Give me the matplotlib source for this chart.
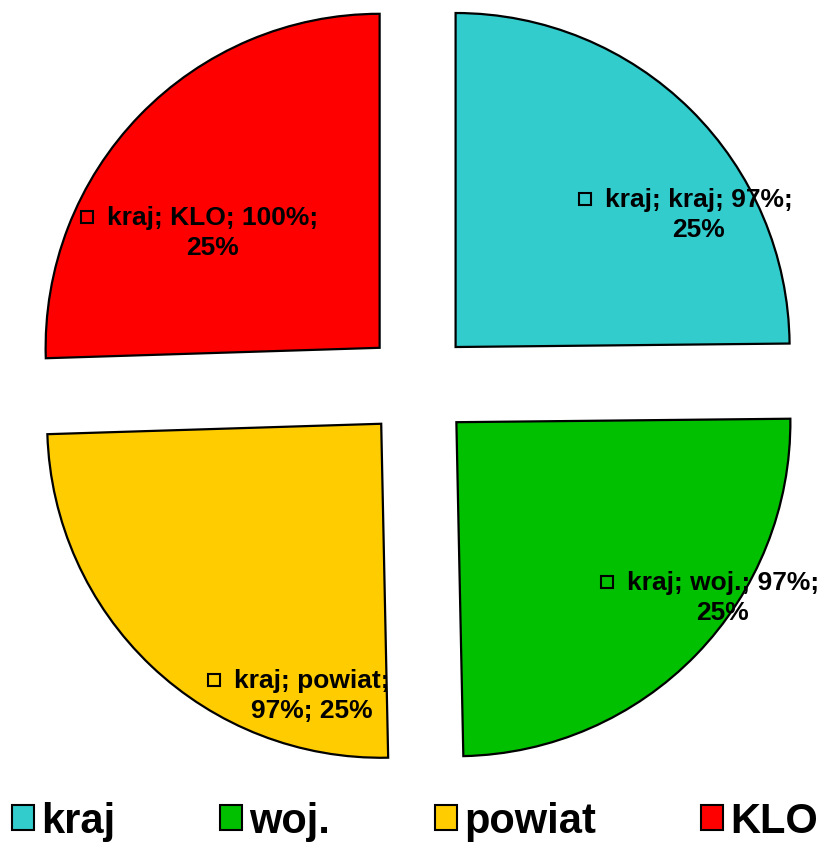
import matplotlib
matplotlib.use('Agg')
import matplotlib.pyplot as plt
from matplotlib.patches import Patch

plt.rcParams['font.family'] = ['Liberation Sans', 'DejaVu Sans']

# Data
series_name = 'kraj'
categories = ['kraj', 'woj.', 'powiat', 'KLO']
values = [97.4, 97.4, 97.4, 100]
value_labels = ['97%', '97%', '97%', '100%']
colors = ['#33CCCC', '#00C000', '#FFCC00', '#FF0000']
wrap_after = [3, 3, 2, 3]  # parts on first line of each data label

# label block centres (axes data units, pie radius = 1)
label_pos = [(0.841, 0.512), (0.913, -0.635), (-0.317, -0.928), (-0.614, 0.458)]

W, H = 826, 845
px = 334.0  # pixels per pie radius
cx, cy = 418, 386  # pie centre in pixels from top-left

fig = plt.figure(figsize=(W / 100, H / 100), dpi=100)
ax = fig.add_axes([0, 0, 1, 1])

wedges, _ = ax.pie(values, colors=colors, startangle=90, counterclock=False,
                   explode=[0.16] * 4, radius=1.0,
                   wedgeprops=dict(edgecolor='black', linewidth=1.6))
for w in wedges:
    w.set_zorder(1)

# pie() resets the limits, so set them afterwards
ax.set_aspect('auto')
ax.set_xlim(-cx / px, (W - cx) / px)
ax.set_ylim((cy - H) / px, cy / px)
ax.axis('off')

total = sum(values)
fig.canvas.draw()
renderer = fig.canvas.get_renderer()
for i, cat in enumerate(categories):
    pct = '%d%%' % round(values[i] / total * 100)
    parts = [series_name, cat, value_labels[i], pct]
    n = wrap_after[i]
    line1 = '; '.join(parts[:n]) + ';'
    line2 = '; '.join(parts[n:])
    x, y = label_pos[i]
    t = ax.text(x, y, line1 + '\n' + line2, ha='center', va='center',
                multialignment='center', fontsize=19, fontweight='bold',
                linespacing=1.35, zorder=5)
    tmp = ax.text(x, y, line1, ha='center', va='center', fontsize=19,
                  fontweight='bold')
    bb1 = tmp.get_window_extent(renderer)
    tmp.remove()
    bb = t.get_window_extent(renderer)
    mx = (bb.x0 + bb.x1) / 2 - bb1.width / 2 - 20
    my = bb.y1 - bb1.height / 2
    dx, dy = ax.transData.inverted().transform((mx, my))
    ax.plot([dx], [dy], marker='s', markersize=9, markerfacecolor='none',
            markeredgecolor='black', markeredgewidth=1.5, zorder=6)

handles = [Patch(facecolor=c, edgecolor='black', linewidth=1.5) for c in colors]
fig.legend(handles, categories, loc='center',
           bbox_to_anchor=(415 / W, 1 - 822 / H), ncol=4, frameon=False,
           prop=dict(size=30, weight='bold'), handlelength=0.53, handleheight=0.53,
           handletextpad=0.17, columnspacing=2.52, borderaxespad=0, borderpad=0)

fig.savefig('out.png', dpi=100)
